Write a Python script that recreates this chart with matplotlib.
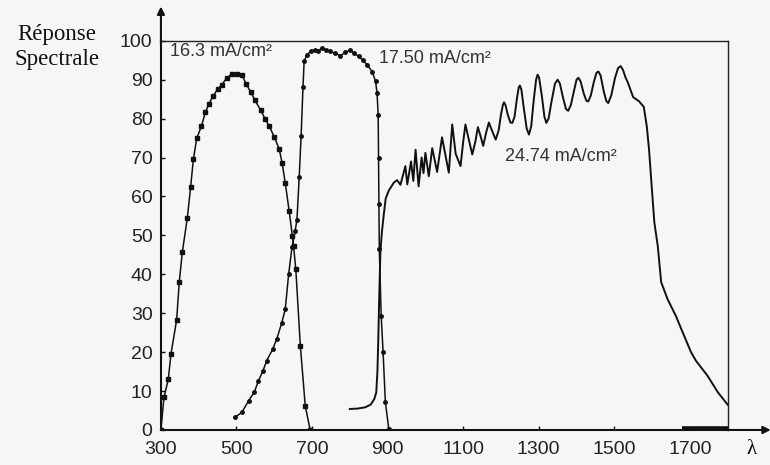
import matplotlib
matplotlib.use("Agg")

import matplotlib.pyplot as plt

# ─────────────────────────────────────────────────────────────
#  DATA
# ─────────────────────────────────────────────────────────────
# cell 1: 16.3 mA/cm2 (square markers)
C1_X = [300, 308, 319.5, 326.5, 341.6, 348.5, 356.6, 369.9, 378.7, 385.8,
        394.6, 407, 417.6, 427, 438.8, 450.3, 461, 474, 487.5, 502,
        514, 525.5, 538, 549, 564.4, 576, 587, 600, 613, 621,
        629, 639.5, 648, 651, 657, 669, 682, 695]
C1_Y = [0, 8.4, 13, 19.5, 28.3, 38, 45.7, 54.5, 62.5, 69.5,
        74.9, 78, 81.6, 83.8, 85.9, 87.6, 88.7, 90.4, 91.5, 91.5,
        91.3, 88.9, 86.8, 84.7, 82.1, 79.9, 78, 75.3, 72.2, 68.5,
        63.5, 56.2, 49.8, 47.3, 41.3, 21.6, 6.2, 0]

# cell 2: 17.50 mA/cm2 (round markers)
C2_X = [496, 514, 532, 547, 558, 570, 580, 596, 607, 620,
        629, 638, 647, 655, 660, 666, 671, 676, 679, 686,
        697, 708, 717, 726, 737, 748, 760, 775, 788, 801,
        812, 823, 835, 846, 859, 868, 872, 875, 876, 877,
        878, 883, 888, 894, 903]
C2_Y = [3.3, 4.5, 7.5, 9.7, 12.6, 15.2, 17.8, 20.8, 23.5, 27.6,
        31, 40, 47, 51, 54, 65, 75.5, 88, 94.7, 96.4,
        97.3, 97.7, 97.5, 98.1, 97.6, 97.3, 96.8, 96.2, 97, 97.7,
        96.8, 96, 95, 93.8, 92.1, 89.6, 86.6, 81, 70, 58,
        46.4, 29.3, 20, 7.2, 0.3]

# cell 3: 24.74 mA/cm2 (plain line with interference fringes)
C3_X = [800, 820, 840, 855, 865, 870, 873, 875, 878, 881,
        885, 890, 895, 903, 916, 925, 934, 947, 952, 962,
        968, 974, 982, 990, 995, 1000, 1009, 1018, 1031, 1044,
        1062, 1071, 1080, 1093, 1100, 1106, 1114, 1124, 1132, 1139,
        1146, 1153, 1161, 1168, 1176, 1186, 1194, 1200, 1205, 1208,
        1212, 1218, 1225, 1230, 1236, 1242, 1247, 1250, 1254, 1260,
        1268, 1274, 1280, 1287, 1293, 1297, 1301, 1308, 1315, 1320,
        1326, 1334, 1343, 1350, 1356, 1364, 1372, 1378, 1385, 1393,
        1400, 1405, 1411, 1419, 1426, 1431, 1438, 1446, 1453, 1458,
        1464, 1472, 1479, 1484, 1492, 1502, 1510, 1517, 1523, 1530,
        1535, 1550, 1565, 1578, 1586, 1592, 1597, 1606, 1615, 1624,
        1641, 1663, 1677, 1703, 1716, 1747, 1774, 1800]
C3_Y = [5.4, 5.5, 5.8, 6.5, 8, 9.7, 15, 22, 35, 46,
        51, 55.5, 59.5, 61.5, 63.5, 64.2, 63, 67.8, 63.1, 69,
        64, 72, 62.6, 70, 66, 71.2, 65.2, 72.4, 66.3, 75.2,
        66.1, 78.5, 71, 67.8, 74, 78.5, 75, 70.8, 74, 77.8,
        75.5, 73, 76.5, 79, 77, 74.6, 77, 81, 83.5, 84.2,
        83.5, 81, 79, 78.9, 80.5, 85, 88, 88.5, 87.5, 83,
        77.5, 75.9, 78, 85, 90, 91.3, 90.5, 86, 80.5, 78.9,
        80, 84.5, 89, 90, 89, 85.5, 82.5, 82, 83.5, 87,
        90, 90.5, 89.5, 86.5, 84.6, 84.4, 86, 89.5, 91.8, 92.1,
        91, 87, 84.5, 84, 86, 90.5, 93, 93.5, 92.5, 90.5,
        89.5, 85.5, 84.5, 83, 78, 72, 65.2, 53.3, 47.3, 38,
        33.6, 29.3, 26, 20, 17.8, 13.9, 9.7, 6.5]

# thick dark stretch lying on the baseline at the right end
TAIL_X = [1680, 1800]
TAIL_Y = [0.4, 0.4]

LABELS = ["16.3 mA/cm²", "17.50 mA/cm²", "24.74 mA/cm²"]
LABEL_POS = [(324, 97.2), (876, 95.4), (1212, 70.3)]

X_TICKS = [300, 500, 700, 900, 1100, 1300, 1500, 1700]
Y_TICKS = [0, 10, 20, 30, 40, 50, 60, 70, 80, 90, 100]

BG = "#f6f6f4"
INK = "#111111"


def main():
    fig = plt.figure(figsize=(7.7, 4.65), dpi=100, facecolor=BG)
    ax = fig.add_axes([0.209, 0.0753, 0.736, 0.837], facecolor=BG)

    ax.plot(C1_X, C1_Y, color=INK, lw=1.1, marker="s", ms=3.2,
            mfc=INK, mec=INK)
    ax.plot(C2_X, C2_Y, color=INK, lw=1.1, marker="o", ms=2.5,
            mfc=INK, mec=INK)
    ax.plot(C3_X, C3_Y, color=INK, lw=1.4)
    ax.plot(TAIL_X, TAIL_Y, color=INK, lw=2.6, solid_capstyle="butt")

    for txt, (x, y) in zip(LABELS, LABEL_POS):
        ax.text(x, y, txt, ha="left", va="center", fontsize=13,
                family="Liberation Sans", color="#333333")

    ax.set_xlim(300, 1800)
    ax.set_ylim(0, 100)
    ax.set_xticks(X_TICKS)
    ax.set_yticks(Y_TICKS)
    ax.tick_params(direction="in", length=3, width=1, color=INK,
                   labelsize=14)
    ax.tick_params(axis="x", pad=8)
    ax.tick_params(axis="y", pad=6)
    for lab in ax.get_xticklabels() + ax.get_yticklabels():
        lab.set_family("Liberation Sans")
        lab.set_color("#222222")

    for side in ("top", "right"):
        ax.spines[side].set_linewidth(1.0)
        ax.spines[side].set_color("#222222")
    for side in ("left", "bottom"):
        ax.spines[side].set_linewidth(1.5)
        ax.spines[side].set_color(INK)

    # arrow heads on both axes
    ax.annotate("", xy=(0, 1.088), xytext=(0, 0.99), xycoords="axes fraction",
                arrowprops=dict(arrowstyle="-|>", lw=1.5, color=INK,
                                mutation_scale=11, shrinkA=0, shrinkB=0))
    ax.annotate("", xy=(1.076, 0), xytext=(0.99, 0), xycoords="axes fraction",
                arrowprops=dict(arrowstyle="-|>", lw=1.5, color=INK,
                                mutation_scale=11, shrinkA=0, shrinkB=0))

    fig.text(0.074, 0.898, "Réponse\nSpectrale", ha="center", va="center",
             fontsize=16.5, family="Liberation Serif", color=INK,
             linespacing=1.25)
    ax.text(1.042, -0.05, "λ", transform=ax.transAxes, ha="center",
            va="center", fontsize=15, family="Liberation Serif", color=INK)

    fig.savefig("out.png", dpi=100, facecolor=BG)
    plt.close(fig)


if __name__ == "__main__":
    main()
